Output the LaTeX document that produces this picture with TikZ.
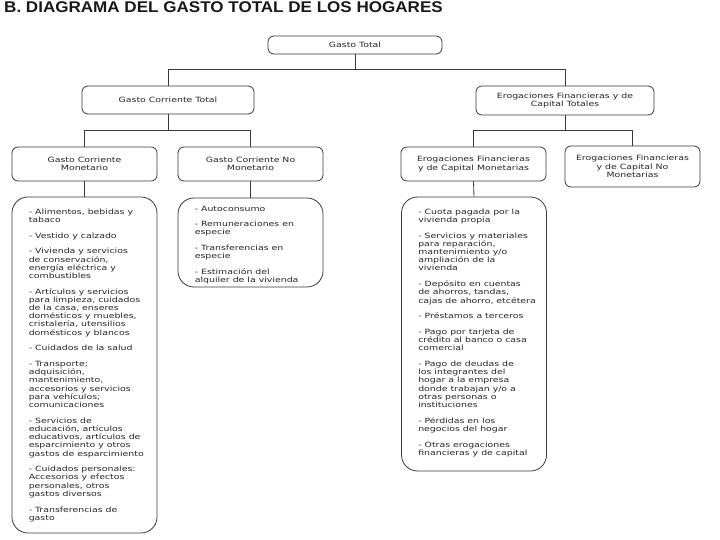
\documentclass[tikz,border=0pt]{standalone}
\usepackage{fontspec}
\newfontfamily\boxfont{DejaVu Sans}[FakeStretch=1.3]
\newfontfamily\titlefont{Liberation Sans}[FakeStretch=1.1]
\definecolor{ink}{HTML}{262626}
\definecolor{edge}{HTML}{3A3A3A}
\begin{document}
\begin{tikzpicture}[x=1pt,y=-1pt,
  txt/.style={font=\boxfont\fontsize{7.2}{8.2}\selectfont, text=ink},
  box/.style={txt, draw=edge, line width=0.8pt, rounded corners=6pt, align=center, inner sep=0pt},
  listbox/.style={draw=edge, line width=0.8pt, rounded corners=16pt, inner sep=0pt},
  listtext/.style={txt, anchor=north west, align=left, inner sep=0pt},
  conn/.style={draw=edge, line width=0.8pt}]
\useasboundingbox (0,0) rectangle (720,540);
\fill[white] (0,0) rectangle (720,540);

\node[anchor=base west, font=\titlefont\bfseries\fontsize{15.5}{15.5}\selectfont, inner sep=0pt, text=black!90] (title) at (4,12.5) {B. DIAGRAMA DEL GASTO TOTAL DE LOS HOGARES};

% level 1
\node[box, minimum width=174pt, minimum height=18pt] (gt) at (355,45) {Gasto Total};
% level 2
\node[box, minimum width=172pt, minimum height=28pt] (gct) at (168,100) {Gasto Corriente Total};
\node[box, minimum width=178pt, minimum height=29pt] (eft) at (565,100.5) {Erogaciones Financieras y de\\Capital Totales};
% level 3
\node[box, minimum width=145pt, minimum height=34pt] (gcm) at (84.5,164) {Gasto Corriente\\Monetario};
\node[box, minimum width=145pt, minimum height=34pt] (gcnm) at (250.5,164) {Gasto Corriente No\\Monetario};
\node[box, minimum width=145pt, minimum height=34pt] (efm) at (473.5,164) {Erogaciones Financieras\\y de Capital Monetarias};
\node[box, minimum width=135pt, minimum height=41pt] (efnm) at (632.5,166.5) {Erogaciones Financieras\\y de Capital No\\Monetarias};
% level 4 list boxes
\node[listbox, minimum width=145pt, minimum height=336pt] (lm) at (84.5,365) {};
\node[listbox, minimum width=145pt, minimum height=89pt] (lnm) at (250.5,242.5) {};
\node[listbox, minimum width=145pt, minimum height=274pt] (lefm) at (474,334) {};

\node[listtext] (tm) at ([xshift=17pt,yshift=-12pt]lm.north west) {%
- Alimentos, bebidas y\\tabaco\\[7.5pt]
- Vestido y calzado\\[7.5pt]
- Vivienda y servicios\\de conservación,\\energía eléctrica y\\combustibles\\[7.5pt]
- Artículos y servicios\\para limpieza, cuidados\\de la casa, enseres\\domésticos y muebles,\\cristalería, utensilios\\domésticos y blancos\\[7.5pt]
- Cuidados de la salud\\[7.5pt]
- Transporte;\\adquisición,\\mantenimiento,\\accesorios y servicios\\para vehículos;\\comunicaciones\\[7.5pt]
- Servicios de\\educación, artículos\\educativos, artículos de\\esparcimiento y otros\\gastos de esparcimiento\\[7.5pt]
- Cuidados personales:\\Accesorios y efectos\\personales, otros\\gastos diversos\\[7.5pt]
- Transferencias de\\gasto};

\node[listtext] (tnm) at ([xshift=17pt,yshift=-8pt]lnm.north west) {%
- Autoconsumo\\[7.5pt]
- Remuneraciones en\\especie\\[7.5pt]
- Transferencias en\\especie\\[7.5pt]
- Estimación del\\alquiler de la vivienda};

\node[listtext] (tefm) at ([xshift=17pt,yshift=-12pt]lefm.north west) {%
- Cuota pagada por la\\vivienda propia\\[7.5pt]
- Servicios y materiales\\para reparación,\\mantenimiento y/o\\ampliación de la\\vivienda\\[7.5pt]
- Depósito en cuentas\\de ahorros, tandas,\\cajas de ahorro, etcétera\\[7.5pt]
- Préstamos a terceros\\[7.5pt]
- Pago por tarjeta de\\crédito al banco o casa\\comercial\\[7.5pt]
- Pago de deudas de\\los integrantes del\\hogar a la empresa\\donde trabajan y/o a\\otras personas o\\instituciones\\[7.5pt]
- Pérdidas en los\\negocios del hogar\\[7.5pt]
- Otras erogaciones\\financieras y de capital};

% connectors
\coordinate (bus1) at (0,69);
\coordinate (bus2) at (0,130);
\draw[conn] (gt.south) -- (gt.south |- bus1);
\draw[conn] (gct.north) -- (gct.north |- bus1) -- (eft.north |- bus1) -- (eft.north);
\draw[conn] (gct.south) -- (gct.south |- bus2);
\draw[conn] (gcm.north) -- (gcm.north |- bus2) -- (gcnm.north |- bus2) -- (gcnm.north);
\draw[conn] (eft.south) -- (eft.south |- bus2);
\draw[conn] (efm.north) -- (efm.north |- bus2) -- (efnm.north |- bus2) -- (efnm.north);
\draw[conn] (gcm.south) -- (lm.north);
\draw[conn] (gcnm.south) -- (lnm.north);
\draw[conn] (efm.south) -- (lefm.north);
\end{tikzpicture}
\end{document}
